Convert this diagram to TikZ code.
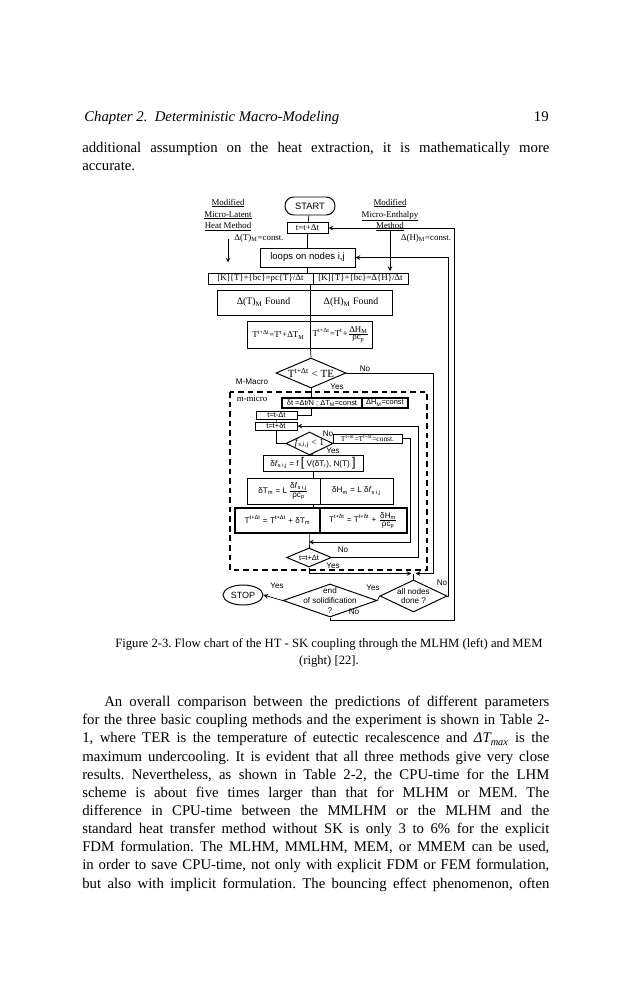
\documentclass[tikz,border=0pt]{standalone}
\usepackage{amsmath}
\usepackage{fontspec}
\setmainfont{Liberation Serif}
\newfontfamily\arialf{Liberation Sans}
\usepackage{tikz}
\usetikzlibrary{shapes.geometric}
\frenchspacing

\newcommand{\pxl}{0.025cm}
\newcommand{\frc}[2]{$\frac{\mbox{#1}}{\mbox{#2}}$}

\tikzset{
  cell/.style 2 args={draw, rectangle, inner sep=0pt, line width=0.7pt,
    minimum width=#1*\pxl, minimum height=#2*\pxl, font=\fontsize{6.3}{7.5}\selectfont},
  decision/.style 2 args={draw, diamond, inner sep=0pt, line width=0.7pt,
    minimum width=#1*\pxl, minimum height=#2*\pxl},
  note/.style={inner sep=0pt, font=\fontsize{6.3}{7.5}\selectfont},
  snote/.style={inner sep=0pt, font=\arialf\fontsize{5.8}{7}\selectfont},
  tiny/.style={font=\arialf\fontsize{5.3}{6}\selectfont},
  flow/.style={line width=0.5pt},
  body/.style={inner sep=0pt, anchor=north west, text width=11.675cm, align=justify,
    font=\fontsize{10.5}{12.9}\selectfont},
}

\begin{document}
\begin{tikzpicture}[x=\pxl, y=-\pxl, >=stealth]
    \useasboundingbox (0,0) rectangle (631,1000);

    % page text
    \node[anchor=base west, inner sep=0pt, font=\fontsize{10.5}{12.6}\selectfont\itshape] (chap) at (84,121) {Chapter 2.\ \ Deterministic Macro-Modeling};
    \node[anchor=base east, inner sep=0pt, font=\fontsize{10.5}{12.6}\selectfont] (pgno) at (549,121) {19};
    \node[body] (para1) at (82,142) {additional assumption on the heat extraction, it is mathematically more\linebreak accurate.};

    % titles
    \node[note, align=center, font=\fontsize{6.3}{8.5}\selectfont] (mlhm) at (228,215) {\underline{Modified}\\\underline{Micro-Latent}\\\underline{Heat Method}};
    \node[note, align=center, font=\fontsize{6.3}{8.5}\selectfont] (mem) at (390,215) {\underline{Modified}\\\underline{Micro-Enthalpy}\\\underline{Method}};

    % macro part
    \node[draw, rectangle, rounded corners=0.22cm, line width=0.7pt, minimum width=50*\pxl, minimum height=18*\pxl, snote, font=\arialf\fontsize{6.6}{7}\selectfont] (start) at (310,206) {START};
    \node[cell={41}{11}] (tstep) at (307.5,228) {t=t+Δt};
    \node[note] (dtc) at (259,238) {Δ(T)\textsubscript{M}=const.};
    \node[note] (dhc) at (426,238) {Δ(H)\textsubscript{M}=const.};
    \node[cell={95}{19}, snote, font=\arialf\fontsize{6.8}{7}\selectfont] (loops) at (307.5,257.5) {loops on nodes i,j};
    \node[cell={105}{11}] (kl) at (260.5,278.5) {[K]\{T\}+\{bc\}=ρc\{T\}/Δt};
    \node[cell={95}{11}] (kr) at (360.5,278.5) {[K]\{T\}+\{bc\}=Δ\{H\}/Δt};
    \node[cell={93}{25}, font=\fontsize{7}{8}\selectfont] (fl) at (263.5,302.5) {Δ(T)\textsubscript{M} Found};
    \node[cell={82}{25}, font=\fontsize{7}{8}\selectfont] (fr) at (351,302.5) {Δ(H)\textsubscript{M} Found};
    \node[cell={63}{27}] (ul) at (278.5,334.5) {T\textsuperscript{t+Δt}=T\textsuperscript{t}+ΔT\textsubscript{M}};
    \node[cell={62}{27}] (ur) at (341,334.5) {T\textsuperscript{t+Δt}=T\textsuperscript{t}+\frc{ΔH\textsubscript{M}}{ρc\textsubscript{p}}};
    \node[decision={70}{30}, label={[note, font=\fontsize{7.8}{8}\selectfont]center:T\textsuperscript{t+Δt} < TE}] (te) at (311,373) {};
    \node[snote] (teno) at (365,369) {No};
    \node[snote] (teyes) at (337,387) {Yes};

    % micro part
    \draw[line width=1.1pt, dash pattern=on 4pt off 2.8pt] (230,392) rectangle (427,570);
    \node[snote] (mmac) at (252,382) {M-Macro};
    \node[note] (mmic) at (252,399) {m-micro};
    \node[cell={80}{10}, line width=1.1pt, tiny] (dtl) at (322,403) {δt =Δt/N ;\ ΔT\textsubscript{M}=const};
    \node[cell={46}{10}, line width=1.1pt, tiny] (dtr) at (385,403) {ΔH\textsubscript{M}=const};
    \node[cell={41}{8}, tiny] (tback) at (276.5,415) {t=t-Δt};
    \node[cell={42}{8}, tiny] (tmic) at (276,426) {t=t+δt};
    \node[decision={47}{23}, label={[note, font=\fontsize{6.8}{7.5}\selectfont]center:\textit{f}\textsubscript{s,i,j} < 1}] (fs) at (309.5,443.5) {};
    \node[snote] (fsno) at (328,434) {No};
    \node[snote] (fsyes) at (333,451) {Yes};
    \node[cell={69}{9}, font=\fontsize{5.3}{6}\selectfont] (cst) at (367.5,438.5) {T\textsuperscript{t+δt}=T\textsuperscript{t+δt}=const.};
    \node[cell={100}{16}, snote] (df) at (313,463) {δ\textit{f}\textsubscript{s i,j} = f {\fontsize{9}{9}\selectfont[} V(δT\textsubscript{i}), N(T) {\fontsize{9}{9}\selectfont]}};
    \node[cell={73}{26}, snote] (dtm) at (283.5,491) {δT\textsubscript{m} = L\,\frc{δ\textit{f}\textsubscript{s i,j}}{ρc\textsubscript{p}}};
    \node[cell={73}{26}, snote] (dhm) at (356.5,491) {δH\textsubscript{m} = L δ\textit{f}\textsubscript{s i,j}};
    \node[cell={85}{25}, snote, line width=0.9pt] (ttm) at (277.5,520.5) {T\textsuperscript{t+Δt} = T\textsuperscript{t+Δt} + δT\textsubscript{m}};
    \node[cell={87}{25}, snote, line width=0.9pt] (thm) at (363.5,520.5) {T\textsuperscript{t+δt} = T\textsuperscript{t+δt} + \frc{δH\textsubscript{m}}{ρc\textsubscript{p}}};
    \coordinate (jn) at (309,542);
    \node[decision={45}{19}, label={[tiny]center:t=t+Δt}] (sd) at (309,557.5) {};
    \node[snote] (sdno) at (343,550) {No};
    \node[snote] (sdyes) at (333,566) {Yes};

    % end of loops
    \coordinate (meet) at (413.5,573.5);
    \node[decision={67}{32}, label={[snote, align=center]center:all nodes\\done ?}] (alln) at (413.5,596) {};
    \node[decision={94}{33}, label={[snote, align=center]center:end\\of solidification\\?}] (endsol) at (330,600.5) {};
    \node[draw, ellipse, line width=0.7pt, minimum width=40*\pxl, minimum height=20*\pxl, snote, font=\arialf\fontsize{6.4}{7}\selectfont] (stop) at (243,595) {STOP};
    \node[snote] (allno) at (442,583) {No};
    \node[snote] (allyes) at (373,588) {Yes};
    \node[snote] (endyes) at (277,586) {Yes};
    \node[snote] (endno) at (354,612) {No};

    % loop corners
    \coordinate (outer) at (454,620);
    \coordinate (inner) at (448,596);
    \coordinate (tex) at (433,373);
    \coordinate (cstx) at (410,542);
    \coordinate (sdx) at (418,557.5);

    % connectors
    \draw[flow] (start) -- (tstep);
    \draw[flow] (tstep) -- (loops);
    \draw[flow,->] ([yshift=-0.2cm]mlhm.south) -- ++(0,23);
    \draw[flow,->,shorten >=1pt] (mem.south) -- (mem.south |- kr.north);
    \draw[flow] (loops.south) -- (loops.south |- kl.north);
    \draw[flow] (fl.north east |- kl.south) -- (fl.north east);
    \draw[flow] (fl.south east) -- (ul.north east);
    \draw[flow] (ul.south east) -- (te.north);
    \draw[flow] (te.south) -- (te.south |- dtl.north);
    \draw[flow] (te.south |- dtl.south) |- (tback.east);
    \draw[flow] (tback) -- (tmic);
    \draw[flow] (tmic.south) |- (fs.west);
    \draw[flow] (fs.east) -- (fs.east -| cst.west);
    \draw[flow] (fs.south) -- (df.north);
    \draw[flow] (df.south) -- (df.south |- dtm.north);
    \draw[flow] (df.south |- dtm.south) -- (df.south |- ttm.north);
    \draw[flow] (ttm.south -| jn) -- (jn) -- (sd.north);
    \draw[flow,->] (cst.east) -| (cstx) -- (jn);
    \draw[flow,->] (sd.east) -- (sdx) |- (tmic.east);
    \draw[flow,->,shorten >=1.5pt] (sd.south) |- (meet);
    \draw[flow,->,shorten >=1.5pt] (te.east) -- (tex) |- (meet);
    \draw[flow] (meet) -- (alln.north);
    \draw[flow] (alln.west) -- (endsol.east);
    \draw[flow,->] (endsol.west) -- (stop.east);
    \draw[flow,->] (endsol.south) |- (outer) |- (tstep.east);
    \draw[flow,->] (alln.east) -- (inner) |- (loops.east);

    % caption and text below
    \node[align=center, inner sep=0pt, font=\fontsize{9}{12.5}\selectfont] (cap) at (329,653) {Figure 2-3. Flow chart of the HT - SK coupling through the MLHM (left) and MEM\\(right) [22].};
    \node[body] (para2) at (82,696) {\parfillskip=0pt\hspace*{0.55cm}An overall comparison between the predictions of different parameters\linebreak
      for the three basic coupling methods and the experiment is shown in Table 2-\linebreak
      1, where TER is the temperature of eutectic recalescence and \textit{ΔT\textsubscript{max}} is the\linebreak
      maximum undercooling. It is evident that all three methods give very close\linebreak
      results. Nevertheless, as shown in Table 2-2, the CPU-time for the LHM\linebreak
      scheme is about five times larger than that for MLHM or MEM. The\linebreak
      difference in CPU-time between the MMLHM or the MLHM and the\linebreak
      standard heat transfer method without SK is only 3 to 6\% for the explicit\linebreak
      FDM formulation. The MLHM, MMLHM, MEM, or MMEM can be used,\linebreak
      in order to save CPU-time, not only with explicit FDM or FEM formulation,\linebreak
      but also with implicit formulation. The bouncing effect phenomenon, often\par};
\end{tikzpicture}
\end{document}
